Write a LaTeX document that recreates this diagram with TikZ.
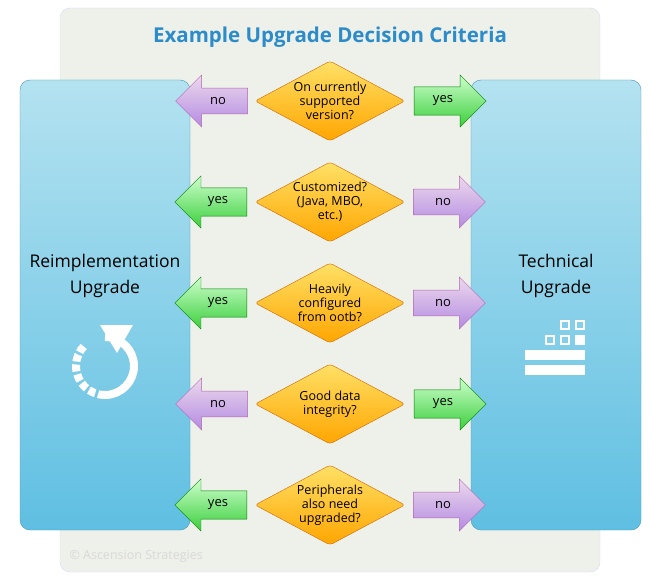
\documentclass[tikz,border=0pt]{standalone}
\usepackage{fontspec}
\setmainfont{Open Sans}
\usetikzlibrary{shapes.geometric,shapes.arrows}
\definecolor{panel}{HTML}{EEF0EA}
\definecolor{boxtop}{HTML}{B4E2F0}
\definecolor{boxbot}{HTML}{5FBFE2}
\definecolor{titleblue}{HTML}{2C8BC9}
\definecolor{yescol}{HTML}{3CCF3C}
\definecolor{nocol}{HTML}{B48BE2}
\tikzset{
  upgrade box/.style={draw=boxbot!80!black, rounded corners=10pt, top color=boxtop, bottom color=boxbot,
    minimum width=170pt, minimum height=450pt},
  box label/.style={align=center, font=\fontsize{17.5}{26}\selectfont},
  criterion/.style={diamond, aspect=1.875, minimum width=150pt, minimum height=80pt, inner sep=0pt,
    draw=orange!80!black, top color=yellow!60!orange!60, bottom color=orange!70!yellow,
    align=center, font=\fontsize{12.5}{14}\selectfont, rounded corners=3pt},
  answer/.style={single arrow, minimum height=72pt, minimum width=52pt, single arrow head extend=7pt,
    inner sep=3pt, font=\fontsize{13}{15}\selectfont},
  answer yes/.style={answer, draw=green!50!black, top color=green!20, bottom color=yescol},
  answer no/.style={answer, draw=violet!60, top color=violet!15, bottom color=nocol},
}
\begin{document}
\begin{tikzpicture}[x=1pt, y=-1pt]
\useasboundingbox (0,0) rectangle (650,580);
\fill[panel, draw=blue!15, rounded corners=10pt] (60,8) rectangle (600,572);
\node[font=\bfseries\fontsize{20.5}{24}\selectfont, text=titleblue] (title) at (330,37) {Example Upgrade Decision Criteria};
\node[text=gray!30, font=\fontsize{12.5}{14}\selectfont, anchor=west] (copy) at (66,556) {© Ascension Strategies};

\node[upgrade box] (reimpl) at (105,305) {};
\node[box label] (reimpl-text) at (105,276) {Reimplementation\\Upgrade};
\node[upgrade box] (tech) at (556,305) {};
\node[box label] (tech-text) at (556,276) {Technical\\Upgrade};

% decisions
\foreach \q/\l/\r [count=\i] in {{On currently\\supported\\version?}/no/yes,
    {Customized?\\(Java, MBO,\\etc.)}/yes/no,
    {Heavily\\configured\\from ootb?}/yes/no,
    {Good data\\integrity?}/no/yes,
    {Peripherals\\also need\\upgraded?}/yes/no} {
  \node[criterion] (crit-\i) at (330,1*\i*101) {\q};
  \node[answer \l, shape border rotate=180] (left-\i) at (218,\i*101) {\l};
  \node[answer \r] (right-\i) at (443,\i*101) {\r};
}

% reimplementation icon
\draw[white, line width=8pt] (105,337) arc[start angle=90, end angle=-90, radius=29pt];
\draw[white, line width=8pt, dash pattern=on 7pt off 3pt] (105,395) arc[start angle=270, end angle=135, radius=29pt];
\fill[white] (100,325) -- (133,325) -- (117,353) -- cycle;
% technical icon
\foreach \cx/\cy in {565/325, 580/325, 550/340, 565/340}
  \draw[white, line width=2pt] (\cx-4,\cy-4) rectangle (\cx+4,\cy+4);
\fill[white] (575,335) rectangle (585,345);
\fill[white] (525,350) rectangle (585,360);
\fill[white] (525,365) rectangle (585,375);
\end{tikzpicture}
\end{document}
